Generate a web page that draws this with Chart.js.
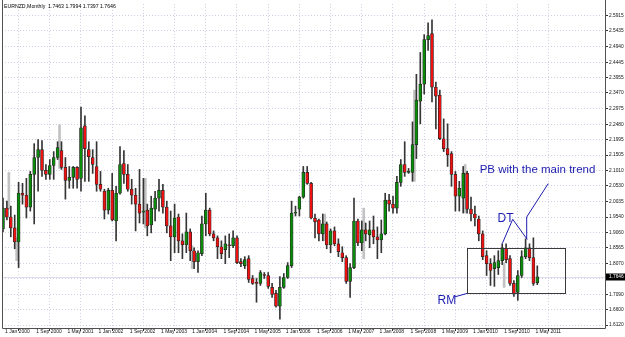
<!DOCTYPE html>
<html>
<head>
<meta charset="utf-8">
<script src="https://cdn.jsdelivr.net/npm/chart.js@4.4.1/dist/chart.umd.min.js"></script>
<style>
  html, body { margin: 0; padding: 0; background: #fff; }
  canvas { display: block; }
</style>
</head>
<body>
<canvas id="c" width="625" height="337"></canvas>
<script>
// EURNZD monthly, one bar per month, index 0 = Jan 2000 ... 137 = Jun 2011
const opens = [
  1.9164,1.9823,1.9541,1.9195,1.8756,2.0294,2.0231,1.9855,2.0891,2.1425,
  2.1676,2.1017,2.0891,2.1173,2.1425,2.1645,2.1111,2.0702,2.0797,2.1111,
  2.0765,2.2429,2.1676,2.1425,2.1142,2.0577,2.0357,1.9761,2.0388,1.9415,
  2.0294,2.1236,2.0891,2.0420,2.0231,1.9949,1.9698,1.9761,1.9290,1.9792,
  2.0137,2.0388,1.9855,1.9258,1.8913,1.9541,1.8787,1.8661,1.9070,1.8473,
  1.8128,1.8379,1.9321,1.9761,1.9007,1.8881,1.8599,1.8504,1.8661,1.8630,
  1.8881,1.8128,1.8002,1.8222,1.7594,1.7468,1.7437,1.7719,1.7688,1.7311,
  1.7123,1.6715,1.7311,1.7625,1.8002,1.9666,1.9792,2.0169,2.0954,2.0608,
  1.9509,1.9447,1.9007,1.9321,1.8661,1.9101,1.8693,1.8410,1.8253,1.7500,
  1.7939,1.9415,1.8724,1.9132,1.8975,1.9132,1.8913,1.8818,1.9007,2.0074,
  1.9949,1.9823,2.0640,2.1205,2.0954,2.0954,2.1833,2.3214,2.3748,2.5161,
  2.5350,2.3654,2.3403,2.2021,2.1707,2.1550,2.0891,2.0200,2.0137,2.0922,
  1.9792,1.9635,1.9478,1.9007,1.8316,1.8065,1.7908,1.7939,1.8159,1.8536,
  1.8222,1.7437,1.7154,1.7688,1.8285,1.8567,1.8253,1.7463
];
const highs = [
  2.0137,2.0043,1.9886,1.9603,2.0640,2.0608,2.0765,2.0985,2.1864,2.1990,
  2.1959,2.1205,2.1362,2.1613,2.1927,2.1927,2.1425,2.1142,2.1142,2.1142,
  2.3026,2.2743,2.1927,2.1676,2.1927,2.0985,2.0420,2.0451,2.0922,2.0514,
  2.1770,2.1645,2.1205,2.0734,2.0451,2.1048,2.0765,1.9949,2.0200,2.0357,
  2.0734,2.0577,2.0043,1.9729,1.9949,1.9635,1.9007,1.9666,1.9164,1.8567,
  1.8473,1.9572,2.0294,1.9823,1.9101,1.8944,1.8787,1.8944,1.9007,1.9101,
  1.8944,1.8222,1.8285,1.8316,1.7688,1.7594,1.7845,1.7782,1.7782,1.7437,
  1.7217,1.7657,1.7751,1.8096,2.0043,1.9886,2.0200,2.1142,2.1142,2.0640,
  1.9635,1.9478,1.9635,1.9384,1.9164,1.9227,1.8850,1.8599,1.8316,1.8065,
  2.0137,1.9478,1.9415,1.9352,1.9415,1.9572,1.9227,1.9447,2.0294,2.0263,
  2.0200,2.0828,2.1362,2.1927,2.1079,2.2555,2.4062,2.4753,2.5318,2.5695,
  2.5789,2.3811,2.3560,2.2649,2.2492,2.1613,2.0985,2.0671,2.1142,2.0985,
  2.0169,1.9886,1.9572,1.9101,1.8473,1.8222,1.8316,1.8473,1.8693,1.8693,
  1.8316,1.7531,1.7845,1.8473,1.8850,1.8693,1.8881,1.7994
];
const lows = [
  1.9070,1.9447,1.8913,1.8536,1.7939,1.9949,1.9509,1.9729,1.9321,2.0357,
  2.0828,2.0734,2.0734,2.0734,2.1362,2.1048,2.0106,2.0451,2.0451,2.0451,
  2.0357,2.0671,2.0671,2.0922,2.0357,2.0357,1.9478,1.9635,1.9415,1.8787,
  2.0263,2.0608,2.0357,1.9949,1.9101,1.9352,1.9321,1.8944,1.9038,1.9415,
  1.9729,1.9666,1.9038,1.8159,1.8410,1.8410,1.8222,1.8410,1.8159,1.7908,
  1.7782,1.8316,1.8944,1.8944,1.8787,1.8222,1.8222,1.8065,1.8253,1.8567,
  1.8065,1.7971,1.7908,1.7468,1.7405,1.6840,1.7374,1.7594,1.7280,1.6997,
  1.6683,1.6306,1.7280,1.7594,1.7939,1.9572,1.9572,2.0137,2.0577,1.9478,
  1.8881,1.8787,1.8787,1.8536,1.8410,1.8630,1.8285,1.8128,1.7437,1.6997,
  1.7908,1.8630,1.8473,1.8787,1.8567,1.8693,1.8222,1.8410,1.8975,1.9729,
  1.9666,1.9666,2.0514,2.0828,2.0922,2.0671,2.1393,2.2492,2.3434,2.4816,
  2.3183,2.2335,2.1990,2.1613,2.1142,2.0514,1.9729,1.9729,1.9666,1.9666,
  1.9415,1.9258,1.8787,1.8190,1.7688,1.7374,1.7343,1.7719,1.8033,1.8096,
  1.7374,1.7029,1.6903,1.7625,1.8222,1.8159,1.7374,1.7397
];
const closes = [
  1.9823,1.9541,1.9195,1.8756,2.0294,2.0231,1.9855,2.0891,2.1425,2.1676,
  2.1017,2.0891,2.1173,2.1425,2.1739,2.1111,2.0702,2.0797,2.1111,2.0734,
  2.2367,2.1707,2.1456,2.1205,2.0577,2.0420,1.9761,2.0388,1.9447,2.0294,
  2.1205,2.0891,2.0420,2.0231,1.9949,1.9666,1.9729,1.9258,1.9823,2.0137,
  2.0388,1.9855,1.9258,1.8913,1.9509,1.8787,1.8661,1.9070,1.8473,1.8128,
  1.8410,1.9321,1.9761,1.9007,1.8881,1.8599,1.8379,1.8693,1.8630,1.8881,
  1.8096,1.8065,1.8190,1.7562,1.7437,1.7437,1.7782,1.7688,1.7343,1.7091,
  1.6715,1.7311,1.7625,1.8002,1.9666,1.9698,2.0169,2.0954,2.0608,1.9509,
  1.9384,1.9007,1.9321,1.8661,1.9101,1.8693,1.8442,1.8253,1.7500,1.7939,
  1.9415,1.8724,1.9132,1.9007,1.9132,1.8913,1.8818,1.9007,2.0074,1.9949,
  1.9823,2.0640,2.1205,2.0954,2.0985,2.1833,2.3246,2.3748,2.5161,2.5287,
  2.3654,2.3371,2.2021,2.1707,2.1519,2.0891,2.0200,2.0451,2.0922,1.9792,
  1.9635,1.9509,1.9007,1.8285,1.8065,1.7845,1.8096,1.8159,1.8567,1.8190,
  1.7437,1.7123,1.7688,1.8285,1.8567,1.8253,1.7437,1.7646
];

// faint grey bars that show next to some candles
const ghostIdx  = [1, 3, 14, 36, 48, 82, 92, 105, 118, 128];
const ghostLow  = [1.9792, 1.8159, 2.1079, 1.9195, 1.7908, 1.8787, 1.8222, 2.0671, 1.9666, 1.7311];
const ghostHigh = [2.0954, 1.8881, 2.2461, 2.0765, 1.8630, 1.9635, 1.9823, 2.3560, 2.1205, 1.8096];

const xTickMonths = [0, 8, 16, 24, 32, 40, 48, 56, 64, 72, 80, 88, 96, 104, 112, 120, 128, 136];
const xTickLabels = ['1 Jan 2000','1 Sep 2000','1 May 2001','1 Jan 2002','1 Sep 2002','1 May 2003',
  '1 Jan 2004','1 Sep 2004','1 May 2005','1 Jan 2006','1 Sep 2006','1 May 2007','1 Jan 2008',
  '1 Sep 2008','1 May 2009','1 Jan 2010','1 Sep 2010','1 May 2011'];
const yTickLabels = ['2.5915','2.5435','2.4940','2.4445','2.3955','2.3470','2.2975','2.2480','2.1995',
  '2.1505','2.1010','2.0530','2.0035','1.9540','1.9060','1.8565','1.8070','1.7580','1.7090','1.6600','1.6120'];
const yTickValues = yTickLabels.map(Number);

const title = 'EURNZD,Monthly  1.7463 1.7994 1.7397 1.7646';
const lastPrice = 1.7646;

// hand-drawn notes, in month / price units
const rmBox = { x0: 119.0, x1: 144.1, top: 1.8564, bottom: 1.7120 };
const notes = [
  { text: 'PB with the main trend', m: 137.05, p: 2.1032, size: 11.5 },
  { text: 'DT', m: 128.85, p: 1.9493, size: 12 },
  { text: 'RM', m: 113.8, p: 1.6887, size: 12 }
];
const noteLines = [
  [[130.7, 1.9469], [128.03, 1.8701]],
  [[130.7, 1.9469], [134.44, 1.8828]],
  [[139.8, 2.0599], [134.28, 1.9541], [134.28, 1.8850]],
  [[115.9, 1.7013], [119.0, 1.7120]]
];

const fontFam = '"Liberation Sans", Arial, sans-serif';
const ink = '#1c1cb0';
const gridColor = '#cfcfe4';
const months = opens.map((_, i) => i);

const decor = {
  id: 'decor',
  beforeDatasetsDraw(chart) {
    const { ctx, chartArea: a, scales: { y } } = chart;
    const py = Math.round(y.getPixelForValue(lastPrice)) + 0.5;
    ctx.save();
    ctx.strokeStyle = '#dcdcec';
    ctx.beginPath();
    ctx.moveTo(a.left, py);
    ctx.lineTo(a.right, py);
    ctx.stroke();
    ctx.restore();
  },
  afterDraw(chart) {
    const { ctx, chartArea: a, scales: { x, y } } = chart;
    const px = m => x.getPixelForValue(m);
    const py = p => y.getPixelForValue(p);
    ctx.save();

    // frame: left edge, bottom and right axes
    ctx.strokeStyle = '#505050';
    ctx.lineWidth = 1;
    ctx.beginPath();
    ctx.moveTo(a.left + 0.5, 0);
    ctx.lineTo(a.left + 0.5, a.bottom + 0.5);
    ctx.lineTo(a.right + 0.5, a.bottom + 0.5);
    ctx.lineTo(a.right + 0.5, 0);
    ctx.stroke();

    ctx.fillStyle = '#000';
    ctx.font = '5.2px ' + fontFam;
    ctx.textBaseline = 'middle';
    ctx.fillText(title, 4, 7);

    // range box
    ctx.strokeStyle = '#3a3a3a';
    const bx0 = Math.round(px(rmBox.x0)) + 0.5, bx1 = Math.round(px(rmBox.x1)) + 0.5;
    const by0 = Math.round(py(rmBox.top)) + 0.5, by1 = Math.round(py(rmBox.bottom)) + 0.5;
    ctx.strokeRect(bx0, by0, bx1 - bx0, by1 - by0);

    ctx.strokeStyle = ink;
    noteLines.forEach(pts => {
      ctx.beginPath();
      pts.forEach(([m, p], k) => k ? ctx.lineTo(px(m), py(p)) : ctx.moveTo(px(m), py(p)));
      ctx.stroke();
    });

    ctx.fillStyle = ink;
    ctx.textAlign = 'center';
    notes.forEach(n => {
      ctx.font = n.size + 'px ' + fontFam;
      ctx.fillText(n.text, px(n.m), py(n.p));
    });

    // current price tag
    const ty = Math.round(py(lastPrice));
    ctx.fillStyle = '#000';
    ctx.fillRect(a.right + 1, ty - 3.5, 19, 7);
    ctx.fillStyle = '#fff';
    ctx.textAlign = 'left';
    ctx.font = '4.8px ' + fontFam;
    ctx.fillText(lastPrice.toFixed(4), a.right + 4, ty);
    ctx.restore();
  }
};

new Chart(document.getElementById('c'), {
  type: 'bar',
  data: {
    datasets: [
      {
        label: 'body',
        data: months.map(i => ({ x: i, y: [opens[i], closes[i]] })),
        backgroundColor: months.map(i => closes[i] >= opens[i] ? '#0a8c0a' : '#ee1111'),
        borderColor: '#262626',
        borderWidth: 0.7,
        borderSkipped: false,
        barThickness: 3,
        minBarLength: 1,
        grouped: false,
        order: 0
      },
      {
        label: 'wick',
        data: months.map(i => ({ x: i, y: [lows[i], highs[i]] })),
        backgroundColor: '#353535',
        barThickness: 1,
        grouped: false,
        order: 1
      },
      {
        label: 'ghost',
        data: ghostIdx.map((m, k) => ({ x: m + 0.5, y: [ghostLow[k], ghostHigh[k]] })),
        backgroundColor: '#c2c2c2',
        barThickness: 2,
        grouped: false,
        order: 2
      }
    ]
  },
  options: {
    responsive: false,
    animation: false,
    devicePixelRatio: 1,
    layout: { padding: { top: 1, left: 2, right: 0, bottom: 0 } },
    plugins: { legend: { display: false }, tooltip: { enabled: false } },
    scales: {
      x: {
        type: 'linear',
        min: -0.256,
        max: 154.36,
        offset: false,
        afterBuildTicks: s => { s.ticks = xTickMonths.map(v => ({ value: v })); },
        afterFit: s => { s.height = 9; },
        grid: { color: gridColor, tickColor: '#333', tickLength: 3 },
        border: { display: false, dash: [1, 2] },
        ticks: {
          autoSkip: false, maxRotation: 0, align: 'start', labelOffset: 2, padding: -2,
          color: '#111', font: { size: 5, family: fontFam },
          callback: (v, i) => xTickLabels[i]
        }
      },
      y: {
        position: 'right',
        min: 1.6025,
        max: 2.6292,
        afterBuildTicks: s => { s.ticks = yTickValues.map(v => ({ value: v })); },
        afterFit: s => { s.width = 20; },
        grid: { color: gridColor, tickColor: '#333', tickLength: 3 },
        border: { display: false, dash: [1, 2] },
        ticks: {
          autoSkip: false, padding: 1,
          color: '#111', font: { size: 4.8, family: fontFam },
          callback: (v, i) => yTickLabels[i]
        }
      }
    }
  },
  plugins: [decor]
});
</script>
</body>
</html>
